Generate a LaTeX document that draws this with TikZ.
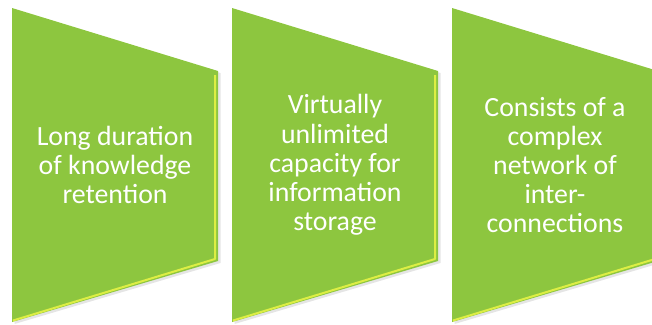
\documentclass[tikz,border=0pt]{standalone}
\usepackage{fontspec}
\setmainfont{Carlito}
\usetikzlibrary{positioning}
\definecolor{leafgreen}{HTML}{8DC63F}
\definecolor{rimyellow}{HTML}{DDEE44}
\tikzset{
  panel/.style={fill=leafgreen},
  panelshade/.style={fill=black, opacity=0.10},
  rim/.style={draw=rimyellow, line width=2pt, line join=round},
  caption/.style={text=white, align=center, inner sep=0pt, font=\fontsize{27.8}{29.2}\selectfont}
}

\begin{document}
\begin{tikzpicture}[x=1pt, y=-1pt]
        \useasboundingbox (0, 0) rectangle (652, 324);
        \clip (0, 0) rectangle (652, 324);
        %shadows
        \fill[panelshade] (14.5, 10) -- (220.5, 73) -- (220.5, 263) -- (14.5, 324) -- cycle;
        \fill[panelshade] (234.5, 10) -- (440.5, 73) -- (440.5, 263) -- (234.5, 324) -- cycle;
        \fill[panelshade] (454.5, 10) -- (660.5, 73) -- (660.5, 263) -- (454.5, 324) -- cycle;
        %panels
        \fill[panel] (12, 8) -- (218, 71) -- (218, 261) -- (12, 322) -- cycle;
        \fill[panel] (232, 8) -- (438, 71) -- (438, 261) -- (232, 322) -- cycle;
        \fill[panel] (452, 8) -- (658, 71) -- (658, 261) -- (452, 322) -- cycle;
        %rims
        \draw[rim] (215, 75) -- (215, 259) -- (13, 320.5);
        \draw[rim] (435, 75) -- (435, 259) -- (233, 320.5);
        \draw[rim] (655, 75) -- (655, 259) -- (453, 320.5);
        %nodes
        \node[caption] (retention) at (115, 165) {Long duration\\of knowledge\\retention};
        \node[caption] (capacity) at (335, 165) {Virtually\\unlimited\\capacity for\\information\\storage};
        \node[caption] (network) at (555, 165) {Consists of a\\complex\\network of\\inter-\\connections};
      \end{tikzpicture}
\end{document}
